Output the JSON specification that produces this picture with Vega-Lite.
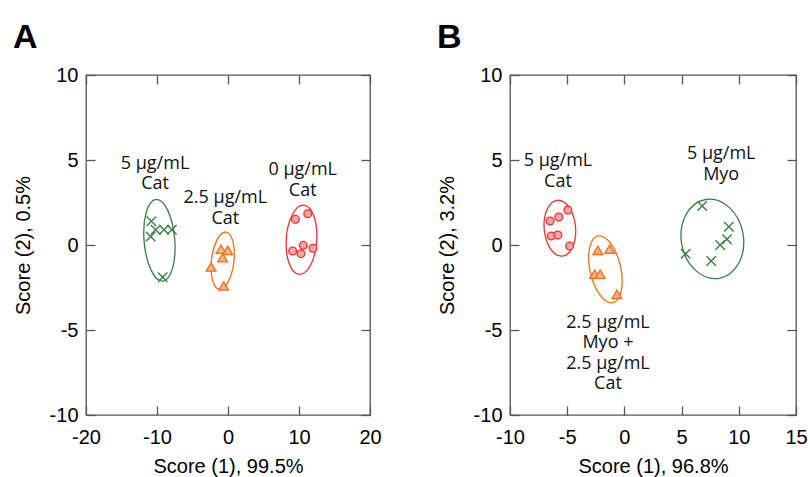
{
  "$schema": "https://vega.github.io/schema/vega-lite/v6.json",
  "padding": {"left": 12, "top": 20, "right": 5, "bottom": 0},
  "spacing": 54,
  "config": {
    "view": {"stroke": "#555555", "strokeWidth": 1.3},
    "axis": {
      "labelFont": "Liberation Sans",
      "labelFontSize": 20,
      "labelColor": "#000000",
      "titleFont": "Liberation Sans",
      "titleFontSize": 20,
      "titleFontWeight": "normal",
      "titleColor": "#000000",
      "tickColor": "#555555",
      "tickWidth": 1.3,
      "tickSize": -9,
      "domain": false,
      "grid": false,
      "labelFlush": false,
      "labelOverlap": false,
      "labelExpr": "replace(datum.label, '−', '-')"
    },
    "title": {"font": "Liberation Sans", "fontSize": 34, "fontWeight": "bold", "anchor": "start", "frame": "bounds", "offset": 10, "color": "#000000"},
    "text": {"font": "Open Sans", "fontSize": 18, "lineHeight": 20.5, "lineBreak": "\n", "align": "center", "baseline": "middle", "color": "#111111"}
  },
  "datasets": {
    "ptsA": [
      {"group": "Cat5", "x": -10.8, "y": 1.4},
      {"group": "Cat5", "x": -10.2, "y": 0.9},
      {"group": "Cat5", "x": -10.9, "y": 0.5},
      {"group": "Cat5", "x": -9.0, "y": 0.9},
      {"group": "Cat5", "x": -7.9, "y": 0.9},
      {"group": "Cat5", "x": -9.2, "y": -1.9},
      {"group": "Cat2.5", "x": -0.99, "y": -0.25},
      {"group": "Cat2.5", "x": -0.04, "y": -0.31},
      {"group": "Cat2.5", "x": -0.75, "y": -0.75},
      {"group": "Cat2.5", "x": -2.39, "y": -1.29},
      {"group": "Cat2.5", "x": -0.61, "y": -2.41},
      {"group": "Cat0", "x": 9.48, "y": 1.51},
      {"group": "Cat0", "x": 11.23, "y": 1.84},
      {"group": "Cat0", "x": 9.11, "y": -0.35},
      {"group": "Cat0", "x": 10.28, "y": -0.51},
      {"group": "Cat0", "x": 10.61, "y": -0.02},
      {"group": "Cat0", "x": 11.97, "y": -0.19}
    ],
    "ellA": [
      {"group": "Cat5", "x": -9.66, "y": 0.28},
      {"group": "Cat2.5", "x": -0.75, "y": -0.92},
      {"group": "Cat0", "x": 10.35, "y": 0.31}
    ],
    "labA": [
      {"label": "5 µg/mL\nCat", "x": -10.28, "y": 4.78},
      {"label": "2.5 µg/mL\nCat", "x": -0.38, "y": 2.75},
      {"label": "0 µg/mL\nCat", "x": 10.52, "y": 4.39}
    ],
    "ptsB": [
      {"group": "Myo5", "x": 6.8, "y": 2.29},
      {"group": "Myo5", "x": 9.13, "y": 1.08},
      {"group": "Myo5", "x": 8.96, "y": 0.34},
      {"group": "Myo5", "x": 8.37, "y": 0.0},
      {"group": "Myo5", "x": 5.35, "y": -0.51},
      {"group": "Myo5", "x": 7.59, "y": -0.94},
      {"group": "Mix", "x": -2.32, "y": -0.31},
      {"group": "Mix", "x": -1.29, "y": -0.25},
      {"group": "Mix", "x": -2.6, "y": -1.72},
      {"group": "Mix", "x": -2.12, "y": -1.72},
      {"group": "Mix", "x": -0.66, "y": -2.9},
      {"group": "Cat5", "x": -6.49, "y": 1.41},
      {"group": "Cat5", "x": -5.73, "y": 1.65},
      {"group": "Cat5", "x": -4.94, "y": 2.06},
      {"group": "Cat5", "x": -6.4, "y": 0.53},
      {"group": "Cat5", "x": -5.81, "y": 0.59},
      {"group": "Cat5", "x": -4.79, "y": -0.06}
    ],
    "ellB": [
      {"group": "Cat5", "x": -5.64, "y": 0.99},
      {"group": "Mix", "x": -1.66, "y": -1.43},
      {"group": "Myo5", "x": 7.69, "y": 0.36}
    ],
    "labB": [
      {"label": "5 µg/mL\nCat", "x": -5.81, "y": 4.94},
      {"label": "5 µg/mL\nMyo", "x": 8.46, "y": 5.34},
      {"label": "2.5 µg/mL\nMyo +\n2.5 µg/mL\nCat", "x": -1.44, "y": -4.57}
    ]
  },
  "hconcat": [
    {
      "width": 284,
      "height": 340,
      "title": "A",
      "resolve": {"axis": {"x": "independent", "y": "independent"}},
      "layer": [
        {
          "data": {"name": "ellA"},
          "transform": [{"filter": "datum.group === 'Cat5'"}],
          "mark": {"type": "point", "shape": "M-3.36,-40.86A41,15.5,85.3,0,1,3.36,40.86A41,15.5,85.3,0,1,-3.36,-40.86Z", "size": 4, "filled": false, "stroke": "#3a7d44", "strokeWidth": 1.3, "opacity": 1},
          "encoding": {
            "x": {"field": "x", "type": "quantitative", "scale": {"domain": [-20, 20], "nice": false, "zero": false},
                  "axis": {"orient": "bottom", "values": [-20, -10, 0, 10, 20], "title": "Score (1), 99.5%", "labelPadding": 21, "titlePadding": 9}},
            "y": {"field": "y", "type": "quantitative", "scale": {"domain": [-10, 10], "nice": false, "zero": false},
                  "axis": {"orient": "left", "values": [-10, -5, 0, 5, 10], "title": "Score (2), 0.5%", "labelPadding": 17, "titlePadding": 16}}
          }
        },
        {
          "data": {"name": "ellA"},
          "transform": [{"filter": "datum.group === 'Cat2.5'"}],
          "mark": {"type": "point", "shape": "M3.36,-28.6A28.8,11.4,96.7,0,1,-3.36,28.6A28.8,11.4,96.7,0,1,3.36,-28.6Z", "size": 4, "filled": false, "stroke": "#ff6a14", "strokeWidth": 1.3, "opacity": 1},
          "encoding": {
            "x": {"field": "x", "type": "quantitative", "scale": {"domain": [-20, 20], "nice": false, "zero": false},
                  "axis": {"orient": "top", "values": [-20, -10, 0, 10, 20], "labels": false, "title": null}},
            "y": {"field": "y", "type": "quantitative", "scale": {"domain": [-10, 10], "nice": false, "zero": false},
                  "axis": {"orient": "right", "values": [-10, -5, 0, 5, 10], "labels": false, "title": null}}
          }
        },
        {
          "data": {"name": "ellA"},
          "transform": [{"filter": "datum.group === 'Cat0'"}],
          "mark": {"type": "point", "shape": "M2.18,-34.63A34.7,15.4,93.6,0,1,-2.18,34.63A34.7,15.4,93.6,0,1,2.18,-34.63Z", "size": 4, "filled": false, "stroke": "#ff2b2b", "strokeWidth": 1.3, "opacity": 1},
          "encoding": {
            "x": {"field": "x", "type": "quantitative", "scale": {"domain": [-20, 20], "nice": false, "zero": false}, "axis": null},
            "y": {"field": "y", "type": "quantitative", "scale": {"domain": [-10, 10], "nice": false, "zero": false}, "axis": null}
          }
        },
        {
          "data": {"name": "ptsA"},
          "transform": [{"filter": "datum.group === 'Cat5'"}],
          "mark": {"type": "point", "shape": "M-1,-1L1,1M-1,1L1,-1", "size": 90, "filled": false, "stroke": "#3a7d44", "strokeWidth": 1.4, "opacity": 1},
          "encoding": {
            "x": {"field": "x", "type": "quantitative", "scale": {"domain": [-20, 20], "nice": false, "zero": false}, "axis": null},
            "y": {"field": "y", "type": "quantitative", "scale": {"domain": [-10, 10], "nice": false, "zero": false}, "axis": null}
          }
        },
        {
          "data": {"name": "ptsA"},
          "transform": [{"filter": "datum.group === 'Cat2.5'"}],
          "mark": {"type": "point", "shape": "triangle-up", "size": 95, "filled": true, "fill": "#fbb48c", "stroke": "#ff6a14", "strokeWidth": 1.3, "opacity": 1},
          "encoding": {
            "x": {"field": "x", "type": "quantitative", "scale": {"domain": [-20, 20], "nice": false, "zero": false}, "axis": null},
            "y": {"field": "y", "type": "quantitative", "scale": {"domain": [-10, 10], "nice": false, "zero": false}, "axis": null}
          }
        },
        {
          "data": {"name": "ptsA"},
          "transform": [{"filter": "datum.group === 'Cat0'"}],
          "mark": {"type": "point", "shape": "circle", "size": 60, "filled": true, "fill": "#f7a6a6", "stroke": "#ff2b2b", "strokeWidth": 1.3, "opacity": 1},
          "encoding": {
            "x": {"field": "x", "type": "quantitative", "scale": {"domain": [-20, 20], "nice": false, "zero": false}, "axis": null},
            "y": {"field": "y", "type": "quantitative", "scale": {"domain": [-10, 10], "nice": false, "zero": false}, "axis": null}
          }
        },
        {
          "data": {"name": "labA"},
          "mark": {"type": "text"},
          "encoding": {
            "x": {"field": "x", "type": "quantitative", "scale": {"domain": [-20, 20], "nice": false, "zero": false}, "axis": null},
            "y": {"field": "y", "type": "quantitative", "scale": {"domain": [-10, 10], "nice": false, "zero": false}, "axis": null},
            "text": {"field": "label", "type": "nominal"}
          }
        }
      ]
    },
    {
      "width": 286,
      "height": 340,
      "title": "B",
      "resolve": {"axis": {"x": "independent", "y": "independent"}},
      "layer": [
        {
          "data": {"name": "ellB"},
          "transform": [{"filter": "datum.group === 'Cat5'"}],
          "mark": {"type": "point", "shape": "M-2.49,-27.89A28,15.7,84.9,0,1,2.49,27.89A28,15.7,84.9,0,1,-2.49,-27.89Z", "size": 4, "filled": false, "stroke": "#ff2b2b", "strokeWidth": 1.3, "opacity": 1},
          "encoding": {
            "x": {"field": "x", "type": "quantitative", "scale": {"domain": [-10, 15], "nice": false, "zero": false},
                  "axis": {"orient": "bottom", "values": [-10, -5, 0, 5, 10, 15], "title": "Score (1), 96.8%", "labelPadding": 21, "titlePadding": 9}},
            "y": {"field": "y", "type": "quantitative", "scale": {"domain": [-10, 10], "nice": false, "zero": false},
                  "axis": {"orient": "left", "values": [-10, -5, 0, 5, 10], "title": "Score (2), 3.2%", "labelPadding": 17, "titlePadding": 16}}
          }
        },
        {
          "data": {"name": "ellB"},
          "transform": [{"filter": "datum.group === 'Mix'"}],
          "mark": {"type": "point", "shape": "M-7.52,-33.36A34.2,15.6,77.3,0,1,7.52,33.36A34.2,15.6,77.3,0,1,-7.52,-33.36Z", "size": 4, "filled": false, "stroke": "#ff6a14", "strokeWidth": 1.3, "opacity": 1},
          "encoding": {
            "x": {"field": "x", "type": "quantitative", "scale": {"domain": [-10, 15], "nice": false, "zero": false},
                  "axis": {"orient": "top", "values": [-10, -5, 0, 5, 10, 15], "labels": false, "title": null}},
            "y": {"field": "y", "type": "quantitative", "scale": {"domain": [-10, 10], "nice": false, "zero": false},
                  "axis": {"orient": "right", "values": [-10, -5, 0, 5, 10], "labels": false, "title": null}}
          }
        },
        {
          "data": {"name": "ellB"},
          "transform": [{"filter": "datum.group === 'Myo5'"}],
          "mark": {"type": "point", "shape": "M-6.94,-39.39A40,31.5,80,0,1,6.94,39.39A40,31.5,80,0,1,-6.94,-39.39Z", "size": 4, "filled": false, "stroke": "#3a7d44", "strokeWidth": 1.3, "opacity": 1},
          "encoding": {
            "x": {"field": "x", "type": "quantitative", "scale": {"domain": [-10, 15], "nice": false, "zero": false}, "axis": null},
            "y": {"field": "y", "type": "quantitative", "scale": {"domain": [-10, 10], "nice": false, "zero": false}, "axis": null}
          }
        },
        {
          "data": {"name": "ptsB"},
          "transform": [{"filter": "datum.group === 'Myo5'"}],
          "mark": {"type": "point", "shape": "M-1,-1L1,1M-1,1L1,-1", "size": 90, "filled": false, "stroke": "#3a7d44", "strokeWidth": 1.4, "opacity": 1},
          "encoding": {
            "x": {"field": "x", "type": "quantitative", "scale": {"domain": [-10, 15], "nice": false, "zero": false}, "axis": null},
            "y": {"field": "y", "type": "quantitative", "scale": {"domain": [-10, 10], "nice": false, "zero": false}, "axis": null}
          }
        },
        {
          "data": {"name": "ptsB"},
          "transform": [{"filter": "datum.group === 'Mix'"}],
          "mark": {"type": "point", "shape": "triangle-up", "size": 95, "filled": true, "fill": "#fbb48c", "stroke": "#ff6a14", "strokeWidth": 1.3, "opacity": 1},
          "encoding": {
            "x": {"field": "x", "type": "quantitative", "scale": {"domain": [-10, 15], "nice": false, "zero": false}, "axis": null},
            "y": {"field": "y", "type": "quantitative", "scale": {"domain": [-10, 10], "nice": false, "zero": false}, "axis": null}
          }
        },
        {
          "data": {"name": "ptsB"},
          "transform": [{"filter": "datum.group === 'Cat5'"}],
          "mark": {"type": "point", "shape": "circle", "size": 60, "filled": true, "fill": "#f7a6a6", "stroke": "#ff2b2b", "strokeWidth": 1.3, "opacity": 1},
          "encoding": {
            "x": {"field": "x", "type": "quantitative", "scale": {"domain": [-10, 15], "nice": false, "zero": false}, "axis": null},
            "y": {"field": "y", "type": "quantitative", "scale": {"domain": [-10, 10], "nice": false, "zero": false}, "axis": null}
          }
        },
        {
          "data": {"name": "labB"},
          "mark": {"type": "text"},
          "encoding": {
            "x": {"field": "x", "type": "quantitative", "scale": {"domain": [-10, 15], "nice": false, "zero": false}, "axis": null},
            "y": {"field": "y", "type": "quantitative", "scale": {"domain": [-10, 10], "nice": false, "zero": false}, "axis": null},
            "text": {"field": "label", "type": "nominal"}
          }
        }
      ]
    }
  ]
}
